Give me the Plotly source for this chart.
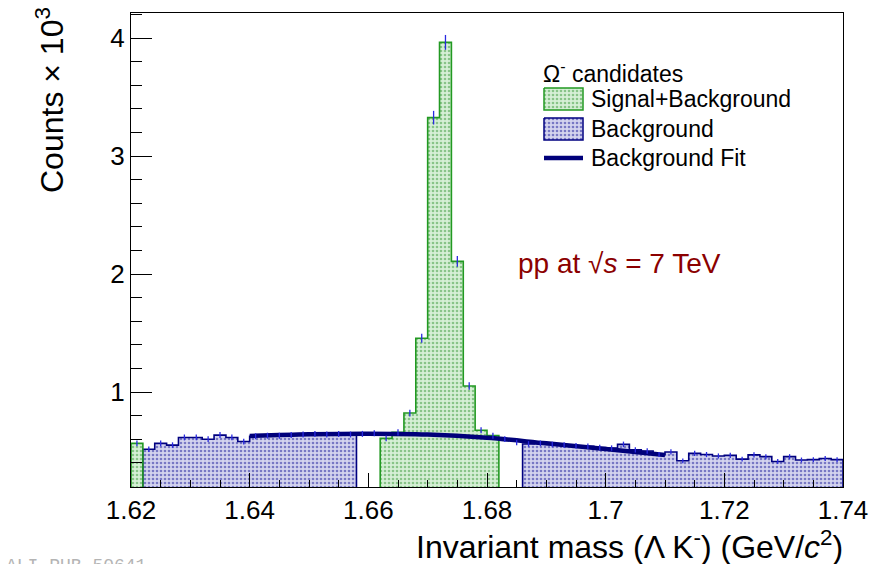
import numpy as np
import plotly.graph_objects as go

# ---------------- data (counts x 10^3 per 2 MeV/c^2 bin) ----------------
x_lo, x_hi = 1.62, 1.74
bin_width = 0.002
counts = [0.565, 0.515, 0.565, 0.550, 0.615, 0.615, 0.600, 0.635, 0.615, 0.580,
          0.625, 0.630, 0.630, 0.635, 0.640, 0.645, 0.640, 0.645, 0.640, 0.645,
          0.650, 0.607, 0.658, 0.822, 1.455, 3.325, 3.963, 2.107, 1.051, 0.676,
          0.630, 0.600, 0.572, 0.560, 0.565, 0.555, 0.550, 0.545, 0.540, 0.530,
          0.525, 0.556, 0.510, 0.500, 0.470, 0.492, 0.417, 0.480, 0.470, 0.458,
          0.463, 0.431, 0.467, 0.452, 0.411, 0.452, 0.424, 0.427, 0.436, 0.427]
signal_bins = [0] + list(range(21, 31))
background_bins = list(range(1, 19)) + list(range(33, 60))

fit_mass = [1.64, 1.65, 1.66, 1.67, 1.68, 1.69, 1.70, 1.71]
fit_counts = [0.628, 0.642, 0.647, 0.640, 0.612, 0.565, 0.518, 0.466]

x_tick_vals = [1.62, 1.64, 1.66, 1.68, 1.70, 1.72, 1.74]
x_tick_text = ["1.62", "1.64", "1.66", "1.68", "1.7", "1.72", "1.74"]
y_tick_vals = [1, 2, 3, 4]
y_tick_text = ["1", "2", "3", "4"]

# ---------------- derived ----------------
n_bins = len(counts)
edges = np.round(x_lo + bin_width * np.arange(n_bins + 1), 4)
centers = (edges[:-1] + edges[1:]) / 2
cnt = np.array(counts)
errs = np.sqrt(cnt * 1000.0) / 1000.0

W, H = 872, 564
ML, MR, MT, MB = 131, 29, 13, 77
PW, PH = W - ML - MR, H - MT - MB


def px(xp):
    return (xp - ML) / PW


def py(yp):
    return (H - MB - yp) / PH


def runs_of(idx):
    idx = sorted(idx)
    out, cur = [], [idx[0]]
    for i in idx[1:]:
        if i == cur[-1] + 1:
            cur.append(i)
        else:
            out.append(cur)
            cur = [i]
    out.append(cur)
    return out


def step_outline(idx):
    xs, ys = [], []
    for run in runs_of(idx):
        xs.append(edges[run[0]]); ys.append(0)
        for i in run:
            xs += [edges[i], edges[i + 1]]
            ys += [cnt[i], cnt[i]]
        xs.append(edges[run[-1] + 1]); ys.append(0)
        xs.append(None); ys.append(None)
    return xs, ys


FONT = "Liberation Sans, Arial, sans-serif"
GREEN_LINE = "#229922"
GREEN_BG = "#d6efd6"
GREEN_FG = "#3a9a3a"
BLUE_LINE = "#000080"
BLUE_BG = "#d4d4ee"
BLUE_FG = "#1c1c9a"
ERR_COL = "#2a2ae0"
FIT_COL = "#00007a"

fig = go.Figure()

fig.add_trace(go.Bar(
    x=centers[background_bins], y=cnt[background_bins], width=bin_width,
    marker=dict(color=BLUE_BG, line=dict(width=0),
                pattern=dict(shape=".", fgcolor=BLUE_FG, bgcolor=BLUE_BG,
                             size=4, solidity=0.35, fillmode="overlay")),
    showlegend=False, hoverinfo="skip"))
fig.add_trace(go.Bar(
    x=centers[signal_bins], y=cnt[signal_bins], width=bin_width,
    marker=dict(color=GREEN_BG, line=dict(width=0),
                pattern=dict(shape=".", fgcolor=GREEN_FG, bgcolor=GREEN_BG,
                             size=4, solidity=0.35, fillmode="overlay")),
    showlegend=False, hoverinfo="skip"))

bx, by = step_outline(background_bins)
fig.add_trace(go.Scatter(x=bx, y=by, mode="lines", line=dict(color=BLUE_LINE, width=1.6),
                         showlegend=False, hoverinfo="skip"))
sx, sy = step_outline(signal_bins)
fig.add_trace(go.Scatter(x=sx, y=sy, mode="lines", line=dict(color=GREEN_LINE, width=1.6),
                         showlegend=False, hoverinfo="skip"))

fig.add_trace(go.Scatter(x=fit_mass, y=fit_counts, mode="lines",
                         line=dict(color=FIT_COL, width=4.5, shape="spline"),
                         showlegend=False, hoverinfo="skip"))

fig.add_trace(go.Scatter(x=centers, y=cnt, mode="markers",
                         marker=dict(size=1, color=ERR_COL, opacity=0),
                         error_y=dict(type="data", array=errs, color=ERR_COL,
                                      thickness=1.3, width=0),
                         showlegend=False, hoverinfo="skip"))

# ---------------- legend (pixel overlay axes) ----------------
def rect(x0, x1, y0, y1):
    return [x0, x1, x1, x0, x0], [y0, y0, y1, y1, y0]

lx, ly = rect(544, 583, 88, 110)
fig.add_trace(go.Scatter(x=lx, y=ly, xaxis="x2", yaxis="y2", mode="lines", fill="toself",
                         fillcolor=GREEN_BG,
                         fillpattern=dict(shape=".", fgcolor=GREEN_FG, bgcolor=GREEN_BG,
                                          size=4, solidity=0.35),
                         line=dict(color=GREEN_LINE, width=1.5),
                         showlegend=False, hoverinfo="skip"))
lx, ly = rect(544, 583, 118, 140)
fig.add_trace(go.Scatter(x=lx, y=ly, xaxis="x2", yaxis="y2", mode="lines", fill="toself",
                         fillcolor=BLUE_BG,
                         fillpattern=dict(shape=".", fgcolor=BLUE_FG, bgcolor=BLUE_BG,
                                          size=4, solidity=0.35),
                         line=dict(color=BLUE_LINE, width=1.5),
                         showlegend=False, hoverinfo="skip"))
fig.add_trace(go.Scatter(x=[544, 583], y=[158, 158], xaxis="x2", yaxis="y2", mode="lines",
                         line=dict(color=FIT_COL, width=4.5),
                         showlegend=False, hoverinfo="skip"))

annotations = [
    dict(text="Ω<sup>-</sup> candidates", x=541, y=72, xanchor="left", yanchor="middle",
         font=dict(size=23, color="black")),
    dict(text="Signal+Background", x=589, y=99, xanchor="left", yanchor="middle",
         font=dict(size=23, color="black")),
    dict(text="Background", x=589, y=129, xanchor="left", yanchor="middle",
         font=dict(size=23, color="black")),
    dict(text="Background Fit", x=589, y=158, xanchor="left", yanchor="middle",
         font=dict(size=23, color="black")),
    dict(text="pp at √<i>s</i> = 7 TeV", x=516, y=263, xanchor="left", yanchor="middle",
         font=dict(size=28, color="#8b0000")),
    dict(text="Invariant mass (Λ K<sup>-</sup>) (GeV/<i>c</i><sup>2</sup>)", x=845, y=545,
         xanchor="right", yanchor="middle", font=dict(size=32, color="black")),
    dict(text="Counts × 10<sup>3</sup>", x=50, y=100, textangle=-90,
         xanchor="center", yanchor="middle", font=dict(size=32, color="black")),
    dict(text="ALI-PUB-50641", x=4, y=554, xanchor="left", yanchor="top",
         font=dict(size=18, color="#b4b4b4", family="Liberation Mono, Courier New, monospace")),
]
for a in annotations:
    a.update(x=px(a["x"]), y=py(a["y"]), xref="paper", yref="paper", showarrow=False)

fig.update_layout(
    width=W, height=H,
    margin=dict(l=ML, r=MR, t=MT, b=MB, autoexpand=False),
    paper_bgcolor="white", plot_bgcolor="white",
    font=dict(family=FONT, color="black"),
    barmode="overlay", bargap=0,
    showlegend=False,
    annotations=annotations,
    xaxis=dict(range=[x_lo, x_hi], tickmode="array", tickvals=x_tick_vals, ticktext=x_tick_text,
               ticks="inside", ticklen=14, tickwidth=1, tickcolor="black",
               minor=dict(ticks="inside", tickmode="linear", tick0=x_lo, dtick=0.005,
                          ticklen=7, tickwidth=1, tickcolor="black", showgrid=False),
               showline=True, linecolor="black", linewidth=1, mirror=True, automargin=False,
               showgrid=False, zeroline=False, tickfont=dict(size=26)),
    yaxis=dict(range=[0.195, 4.212], tickmode="array", tickvals=y_tick_vals, ticktext=y_tick_text,
               ticks="inside", ticklen=21, tickwidth=1, tickcolor="black",
               minor=dict(ticks="inside", tickmode="linear", tick0=0, dtick=0.2,
                          ticklen=11, tickwidth=1, tickcolor="black", showgrid=False),
               showline=True, linecolor="black", linewidth=1, mirror=True, automargin=False,
               showgrid=False, zeroline=False, tickfont=dict(size=26)),
    xaxis2=dict(overlaying="x", anchor="y2", range=[131, 843], visible=False, automargin=False),
    yaxis2=dict(overlaying="y", anchor="x2", range=[487, 13], visible=False, automargin=False),
)

fig.write_html("out.html", config={"displayModeBar": False},
               post_script="document.body.style.margin='0px';document.body.style.overflow='hidden';")
